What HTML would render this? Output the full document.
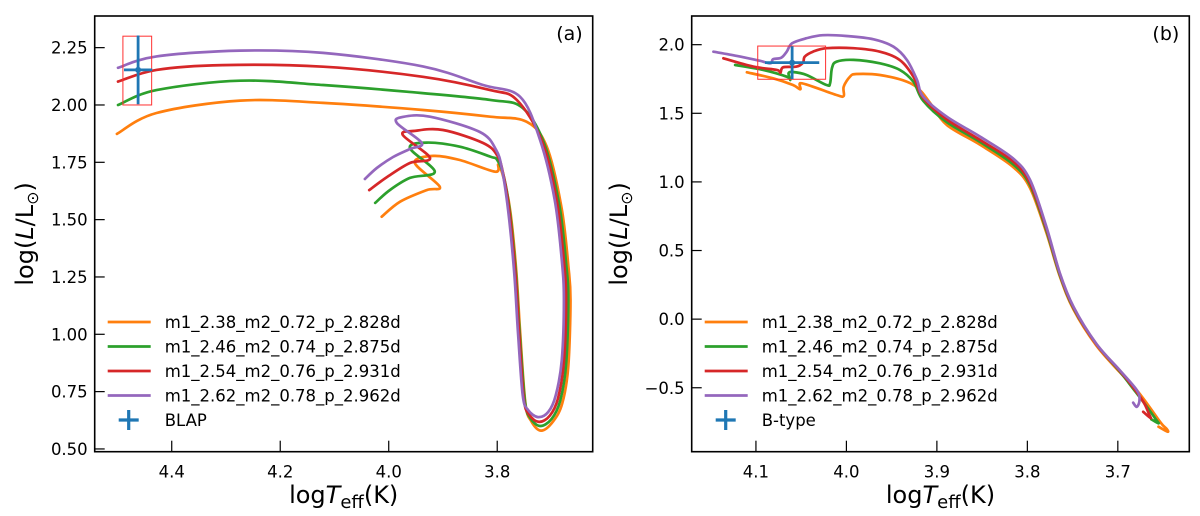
<!DOCTYPE html>
<html><head><meta charset="utf-8"><style>
html,body{margin:0;padding:0;background:#fff;}
svg{display:block;font-family:"DejaVu Sans","Liberation Sans",sans-serif;}
</style></head><body>
<svg id="fig" width="1200" height="516" viewBox="0 0 1200 516" xmlns="http://www.w3.org/2000/svg"></svg>
<script>
const seriesNames=["m1_2.38_m2_0.72_p_2.828d","m1_2.46_m2_0.74_p_2.875d","m1_2.54_m2_0.76_p_2.931d","m1_2.62_m2_0.78_p_2.962d"];
const seriesColors=["#ff7f0e","#2ca02c","#d62728","#9467bd"];
const ticksAx=[4.4,4.2,4.0,3.8];
const ticksAy=[0.5,0.75,1.0,1.25,1.5,1.75,2.0,2.25];
const ticksBx=[4.1,4.0,3.9,3.8,3.7];
const ticksBy=[-0.5,0,0.5,1.0,1.5,2.0];
const tracksA=[
[[4.501,1.874],[4.428,1.965],[4.274,2.019],[4.121,2.009],[3.937,1.978],[3.813,1.949],[3.746,1.927],[3.709,1.82],[3.682,1.56],[3.669,1.30],[3.665,1.15],[3.669,0.86],[3.680,0.70],[3.697,0.62],[3.719,0.580],[3.737,0.62],[3.748,0.70],[3.758,1.019],[3.765,1.28],[3.776,1.54],[3.788,1.68],[3.798,1.74],[3.804,1.709],[3.869,1.760],[3.918,1.778],[3.952,1.748],[3.906,1.644],[3.930,1.629],[3.979,1.578],[4.013,1.513]],
[[4.499,2.000],[4.428,2.065],[4.274,2.106],[4.121,2.087],[3.967,2.058],[3.813,2.022],[3.753,1.987],[3.713,1.83],[3.686,1.57],[3.673,1.31],[3.669,1.15],[3.673,0.87],[3.684,0.71],[3.700,0.63],[3.721,0.600],[3.739,0.635],[3.749,0.71],[3.759,1.019],[3.766,1.28],[3.777,1.54],[3.788,1.69],[3.800,1.76],[3.813,1.775],[3.869,1.818],[3.930,1.836],[3.961,1.812],[3.915,1.709],[3.961,1.682],[3.998,1.629],[4.025,1.573]],
[[4.499,2.102],[4.428,2.153],[4.306,2.174],[4.121,2.167],[3.937,2.123],[3.813,2.065],[3.764,2.022],[3.717,1.84],[3.690,1.58],[3.677,1.32],[3.673,1.15],[3.677,0.88],[3.688,0.72],[3.703,0.645],[3.723,0.618],[3.741,0.65],[3.751,0.72],[3.760,1.019],[3.767,1.28],[3.778,1.54],[3.789,1.70],[3.800,1.78],[3.826,1.834],[3.900,1.891],[3.952,1.887],[3.974,1.869],[3.924,1.769],[3.961,1.747],[4.003,1.686],[4.036,1.629]],
[[4.499,2.162],[4.428,2.212],[4.274,2.237],[4.121,2.227],[3.937,2.168],[3.826,2.087],[3.758,2.036],[3.721,1.847],[3.694,1.586],[3.681,1.324],[3.677,1.150],[3.681,0.888],[3.692,0.735],[3.706,0.661],[3.725,0.639],[3.743,0.670],[3.753,0.735],[3.762,1.019],[3.769,1.280],[3.780,1.542],[3.791,1.717],[3.802,1.804],[3.832,1.882],[3.924,1.949],[3.974,1.948],[3.985,1.921],[3.939,1.834],[3.961,1.808],[3.992,1.773],[4.022,1.725],[4.044,1.677]]
];
const tracksB=[
[[4.110,1.799],[4.081,1.755],[4.059,1.706],[4.051,1.675],[4.051,1.719],[4.037,1.694],[4.011,1.633],[4.003,1.626],[4.003,1.694],[3.996,1.767],[3.989,1.786],[3.963,1.779],[3.933,1.730],[3.919,1.670],[3.908,1.58],[3.889,1.415],[3.852,1.27],[3.816,1.11],[3.797,0.955],[3.779,0.63],[3.764,0.31],[3.749,0.07],[3.724,-0.19],[3.698,-0.385],[3.680,-0.51],[3.665,-0.64],[3.652,-0.76],[3.646,-0.80],[3.645,-0.82],[3.655,-0.784]],
[[4.123,1.852],[4.092,1.816],[4.066,1.767],[4.062,1.743],[4.064,1.792],[4.059,1.801],[4.044,1.779],[4.022,1.706],[4.018,1.719],[4.016,1.828],[4.011,1.876],[3.992,1.889],[3.963,1.864],[3.941,1.816],[3.926,1.730],[3.915,1.59],[3.889,1.435],[3.852,1.29],[3.816,1.13],[3.797,0.975],[3.779,0.645],[3.764,0.32],[3.749,0.08],[3.724,-0.18],[3.698,-0.38],[3.685,-0.49],[3.670,-0.62],[3.658,-0.73],[3.655,-0.76],[3.663,-0.73]],
[[4.136,1.901],[4.103,1.840],[4.077,1.816],[4.073,1.796],[4.070,1.835],[4.055,1.840],[4.048,1.869],[4.046,1.913],[4.037,1.949],[4.022,1.974],[3.992,1.974],[3.963,1.949],[3.941,1.888],[3.926,1.767],[3.915,1.61],[3.889,1.455],[3.852,1.305],[3.816,1.15],[3.797,0.99],[3.779,0.66],[3.764,0.33],[3.749,0.085],[3.724,-0.18],[3.698,-0.375],[3.685,-0.48],[3.672,-0.60],[3.665,-0.70],[3.664,-0.72],[3.672,-0.675]],
[[4.147,1.949],[4.121,1.918],[4.096,1.883],[4.084,1.864],[4.081,1.894],[4.072,1.905],[4.066,1.949],[4.060,2.010],[4.044,2.047],[4.026,2.069],[4.000,2.063],[3.970,2.039],[3.948,1.985],[3.933,1.888],[3.922,1.743],[3.915,1.621],[3.889,1.475],[3.852,1.329],[3.816,1.172],[3.797,1.014],[3.779,0.673],[3.764,0.334],[3.749,0.090],[3.724,-0.177],[3.698,-0.371],[3.679,-0.517],[3.676,-0.590],[3.679,-0.639],[3.683,-0.609]]
];
const blapPoint=[4.462,2.153], blapErr=[0.026,0.15], blapBox=[4.490,4.437,2.00,2.30];
const btypePoint=[4.060,1.869], btypeErr=[0.030,0.12], btypeBox=[4.098,4.023,1.748,1.990];

const NS="http://www.w3.org/2000/svg";
const svg=document.getElementById('fig');
function mk(tag,attrs,parent,text){const e=document.createElementNS(NS,tag);for(const k in attrs)e.setAttribute(k,attrs[k]);if(text!==undefined)e.textContent=text;(parent||svg).appendChild(e);return e;}
function smooth(P){
  let d='M'+P[0][0].toFixed(1)+','+P[0][1].toFixed(1);
  for(let i=0;i<P.length-1;i++){
    const p0=P[i-1]||P[i],p1=P[i],p2=P[i+1],p3=P[i+2]||P[i+1];
    const k=1/6;
    const c1=[p1[0]+(p2[0]-p0[0])*k,p1[1]+(p2[1]-p0[1])*k];
    const c2=[p2[0]-(p3[0]-p1[0])*k,p2[1]-(p3[1]-p1[1])*k];
    d+=' C'+c1[0].toFixed(1)+','+c1[1].toFixed(1)+' '+c2[0].toFixed(1)+','+c2[1].toFixed(1)+' '+p2[0].toFixed(1)+','+p2[1].toFixed(1);
  }
  return d;
}

function panel(cfg){
  const g=mk('g',{});
  
  
  const {L,R,T,B,xmin,xmax,ymin,ymax}=cfg;
  const sx=v=>L+(xmax-v)/(xmax-xmin)*(R-L);
  const sy=v=>B-(v-ymin)/(ymax-ymin)*(B-T);
  const clipId=cfg.id+'-clip';
  const defs=mk('defs',{},g);const cp=mk('clipPath',{id:clipId},defs);mk('rect',{x:L,y:T,width:R-L,height:B-T},cp);
  const plot=mk('g',{'clip-path':'url(#'+clipId+')'},g);
  
  
  cfg.tracks.forEach((tr,i)=>{
    const p=mk('path',{d:smooth(tr.map(d=>[sx(d[0]),sy(d[1])])),fill:'none',stroke:seriesColors[i],'stroke-width':2.7,'stroke-linejoin':'round','stroke-linecap':'round'},plot);
    
    
  });
  const bx=cfg.box;
  const r=mk('rect',{x:sx(bx[0]),y:sy(bx[3]),width:sx(bx[1])-sx(bx[0]),height:sy(bx[2])-sy(bx[3]),fill:'none',stroke:'#ff3030','stroke-width':1},plot);
  
  
  const pt=cfg.pt,er=cfg.err;
  const eg=mk('g',{stroke:'#1f77b4','stroke-width':2.8},plot);
  
  
  mk('line',{x1:sx(pt[0]-er[0]),x2:sx(pt[0]+er[0]),y1:sy(pt[1]),y2:sy(pt[1])},eg);
  mk('line',{x1:sx(pt[0]),x2:sx(pt[0]),y1:sy(pt[1]-er[1]),y2:sy(pt[1]+er[1])},eg);
  mk('circle',{cx:sx(pt[0]),cy:sy(pt[1]),r:3,fill:'#1f77b4',stroke:'none'},eg);
  const fr=mk('rect',{x:L,y:T,width:R-L,height:B-T,fill:'none',stroke:'#000','stroke-width':1.6},g);
  
  
  cfg.xt.forEach(v=>{
    const x=sx(v);
    mk('line',{x1:x,x2:x,y1:B,y2:B-11,stroke:'#000','stroke-width':1.2},g);
    const t=mk('text',{x:x,y:B+26,'font-size':16.5,'text-anchor':'middle'},g,v.toFixed(1));
    
    
  });
  cfg.yt.forEach(v=>{
    const y=sy(v);
    mk('line',{x1:L,x2:L+10,y1:y,y2:y,stroke:'#000','stroke-width':1.2},g);
    const s=(cfg.ydec===2?v.toFixed(2):v.toFixed(1)).replace('-','\u2212');
    const t=mk('text',{x:L-7,y:y+6,'font-size':16.5,'text-anchor':'end'},g,s);
    
    
  });
  const xl=mk('text',{x:(L+R)/2,y:503,'font-size':24,'text-anchor':'middle'},g);
  
  
  xl.innerHTML='log<tspan font-style="italic">T</tspan><tspan font-size="18" dy="5">eff</tspan><tspan dy="-5">(K)</tspan>';
  const yl=mk('text',{x:0,y:0,'font-size':24,'text-anchor':'middle',transform:'translate('+cfg.ylx+','+(T+B)/2+') rotate(-90)'},g);
  
  
  yl.innerHTML='log(<tspan font-style="italic">L</tspan>/L<tspan font-size="16" dy="5">\u2299</tspan><tspan dy="-5">)</tspan>';
  const pl=mk('text',{x:R-10,y:T+24,'font-size':19,'text-anchor':'end'},g,cfg.label);
  
  
  const lg=mk('g',{},g);
  
  
  seriesNames.forEach((n,i)=>{
    const y=322+i*24.5;
    const le=mk('g',{},lg);
    
    
    mk('line',{x1:L+13,x2:L+56,y1:y,y2:y,stroke:seriesColors[i],'stroke-width':2.7},le);
    mk('text',{x:L+70,y:y+6,'font-size':16.5},le,n);
  });
  const y=322+4*24.5;
  const le=mk('g',{},lg);
  
  
  mk('line',{x1:L+24,x2:L+44,y1:y,y2:y,stroke:'#1f77b4','stroke-width':3.2},le);
  mk('line',{x1:L+34,x2:L+34,y1:y-10,y2:y+10,stroke:'#1f77b4','stroke-width':3.2},le);
  mk('text',{x:L+70,y:y+6,'font-size':16.5},le,cfg.obsLabel);
}
panel({id:'panel-a',L:94.7,R:592.7,T:16,B:451.7,xmin:3.624,xmax:4.542,ymin:0.488,ymax:2.388,tracks:tracksA,xt:ticksAx,yt:ticksAy,ydec:2,ylx:33,label:'(a)',box:blapBox,pt:blapPoint,err:blapErr,obsLabel:'BLAP'});
panel({id:'panel-b',L:691.7,R:1189.3,T:16,B:451.7,xmin:3.621,xmax:4.171,ymin:-0.966,ymax:2.209,tracks:tracksB,xt:ticksBx,yt:ticksBy,ydec:1,ylx:627,label:'(b)',box:btypeBox,pt:btypePoint,err:btypeErr,obsLabel:'B-type'});
</script>
</body></html>
